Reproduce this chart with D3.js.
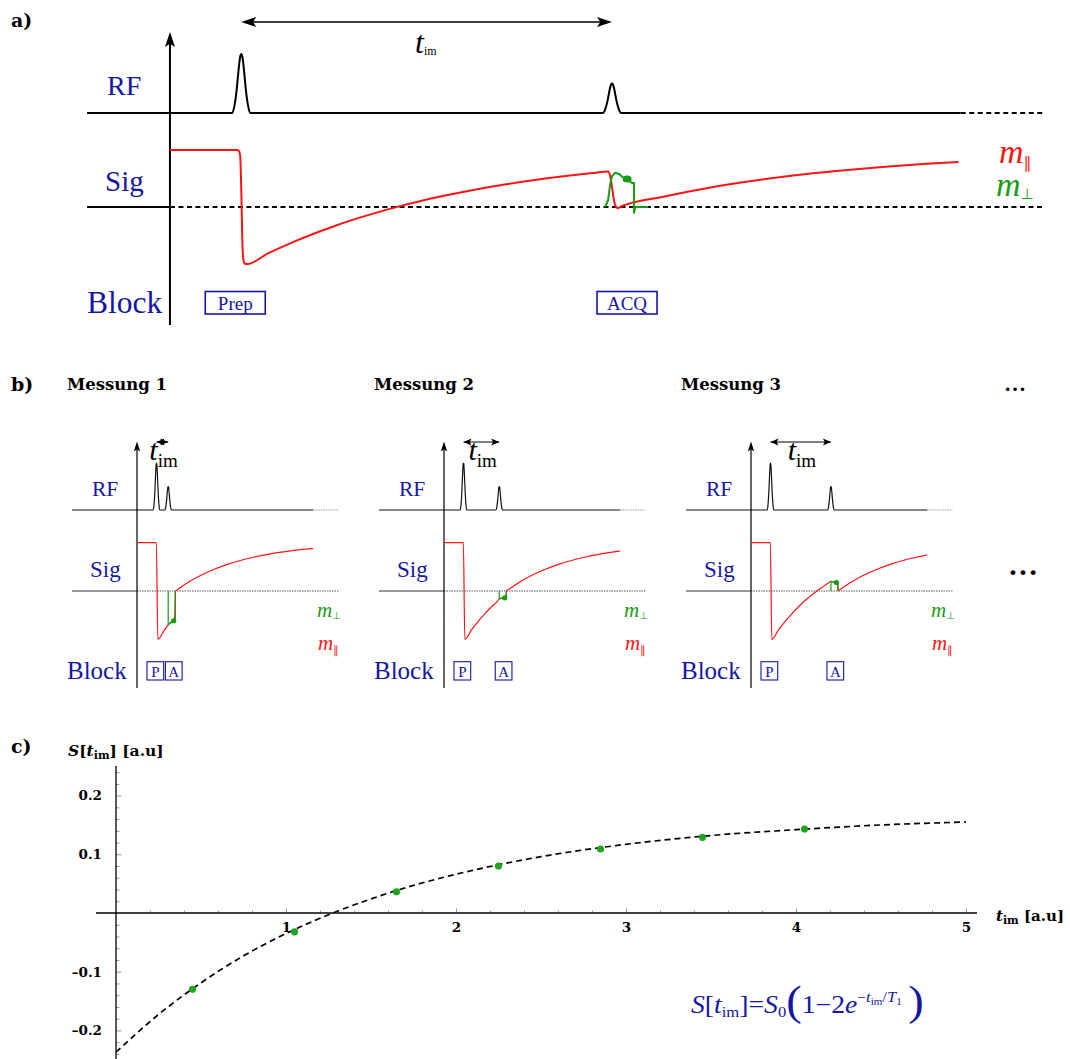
<!DOCTYPE html>
<html>
<head>
<meta charset="utf-8">
<script src="https://cdn.jsdelivr.net/npm/d3@7"></script>
<style>
  body { margin: 0; background: #fff; }
  svg { display: block; }
</style>
</head>
<body>
<script>
// ---------------- data ----------------
// Inversion recovery of m_par after the 180° pulse (time in units of T1, measured from the minimum)
const irTime = [0, 0.1, 0.2, 0.3, 0.4, 0.5, 0.6, 0.7, 0.8, 0.9, 1.0, 1.2, 1.4, 1.6, 1.8];
const irMag  = [-1, -0.81, -0.637, -0.482, -0.341, -0.213, -0.098, 0.007, 0.101, 0.187, 0.264, 0.398, 0.507, 0.596, 0.669];
// Saturation recovery of m_par after the 90° readout pulse
const srTime = [0, 0.2, 0.4, 0.6, 0.8, 1.0, 1.2, 1.4, 1.6, 1.8, 2.0, 2.2];
const srMag  = [0, 0.181, 0.330, 0.451, 0.551, 0.632, 0.699, 0.753, 0.798, 0.835, 0.865, 0.889];
// Gaussian RF pulse envelope (offset in half-widths, relative level)
const pulseOffsets = [-1, -0.75, -0.5, -0.35, -0.2, -0.1, 0, 0.1, 0.2, 0.35, 0.5, 0.75, 1];
const pulseLevels  = [0, 0.13, 0.41, 0.65, 0.87, 0.97, 1, 0.97, 0.87, 0.65, 0.41, 0.13, 0];
const flipAngles = [180, 90];

// Panel a) sequence
const prepTimeA = 0.33;
const invDropT = [0.31, 0.318, 0.325, 0.33, 0.335, 0.34, 0.347, 0.356];
const invDropM = [1, 0.99, 0.9, 0.3, -0.6, -0.93, -0.995, -1];
const invMinA = 0.356;
const acqTimeA = 2.046;
const acqPeakA = [2.028, 0.624];
const readoutDropT = [2.037, 2.046, 2.055, 2.065, 2.074];
const readoutDropM = [0.55, 0.35, 0.12, 0.0, -0.02];
const srStartA = 2.083;
const curveEndA = 3.65;
const perpT = [2.014, 2.028, 2.037, 2.046, 2.06, 2.079, 2.093, 2.116, 2.139, 2.148, 2.148, 2.153, 2.213];
const perpM = [0, 0.12, 0.39, 0.54, 0.6, 0.58, 0.53, 0.49, 0.42, 0.42, -0.1, 0, 0];
const perpDotA = [2.116, 0.49];
const blockNamesA = ["Prep", "ACQ"];

// Panel b) three measurements with increasing t_im
const measurements = ["Messung 1", "Messung 2", "Messung 3"];
const tImB  = [0.18, 0.55, 0.93];
const mAcqB = [-0.70, -0.16, 0.20];
const prepTimeB = 0.30;
const invMinB = 0.32;
const curveEndB = 2.71;
const blockNamesB = ["P", "A"];

// Panel c) measured signal vs inversion time and fitted recovery curve
const tIm    = [0.45, 1.05, 1.65, 2.25, 2.85, 3.45, 4.05];
const signal = [-0.130, -0.032, 0.036, 0.080, 0.109, 0.129, 0.143];
const fitT = [0, 0.25, 0.5, 0.75, 1, 1.25, 1.5, 1.75, 2, 2.5, 3, 3.5, 4, 4.5, 5];
const fitS = [-0.237, -0.173, -0.119, -0.073, -0.035, -0.003, 0.024, 0.047, 0.066, 0.096, 0.117, 0.132, 0.142, 0.150, 0.155];
const xTicksMajor = [1, 2, 3, 4, 5];
const yTicksMajor = [-0.2, -0.1, 0.1, 0.2];

// ---------------- setup ----------------
const W = 1070, H = 1059;
const NAVY = "#1616a2", RED = "#ff1414", GREEN = "#169c16";
const SERIF = "'Liberation Serif','Times New Roman',serif";
const BOLD = "'DejaVu Serif',serif";

const svg = d3.select("body").append("svg")
  .attr("width", W).attr("height", H)
  .attr("font-family", SERIF);
const defs = svg.append("defs");

const zip = (a, b) => a.map((v, i) => [v, b[i]]);

function arrowHead(g, x, y, dx, dy, len, half, color) {
  const px = -dy, py = dx;
  const bx = x - dx * len, by = y - dy * len;
  const ix = x - dx * len * 0.78, iy = y - dy * len * 0.78;
  g.append("path")
    .attr("d", `M${x},${y}L${bx + px * half},${by + py * half}L${ix},${iy}L${bx - px * half},${by - py * half}Z`)
    .attr("fill", color || "#000");
}

function rich(g, x, y, parts, attrs) {
  const t = g.append("text").attr("x", x).attr("y", y);
  Object.entries(attrs || {}).forEach(([k, v]) => t.attr(k, v));
  let cur = 0;
  parts.forEach(p => {
    const s = t.append("tspan").text(p.t);
    const off = p.dy || 0;
    if (off - cur) s.attr("dy", off - cur);
    cur = off;
    if (p.size) s.attr("font-size", p.size);
    if (p.it) s.attr("font-style", "italic");
    if (p.fam) s.attr("font-family", p.fam);
    if (p.dx) s.attr("dx", p.dx);
  });
  return t;
}

function rfPath(xs, base, amp, times, half, start, end) {
  const pts = [[xs(start), base]];
  times.forEach((t, i) => {
    pulseOffsets.forEach((o, k) => pts.push([xs(t) + o * half, base - amp(flipAngles[i]) * pulseLevels[k]]));
  });
  pts.push([xs(end), base]);
  return d3.line().curve(d3.curveMonotoneX)(pts);
}

// panel letters
[["a)", 27], ["b)", 391], ["c)", 753]].forEach(([s, y]) =>
  svg.append("text").attr("x", 11).attr("y", y).attr("font-family", BOLD)
    .attr("font-weight", "bold").attr("font-size", 19).text(s));

// ---------------- panel a ----------------
{
  const g = svg.append("g");
  const x = d3.scaleLinear().domain([-0.384, 4.05]).range([87, 1045]);
  const y = d3.scaleLinear().domain([-1, 1]).range([264, 150]);
  const rfBase = 113;
  const amp = d3.scaleLinear().domain([0, 180]).range([0, 59]);
  const pulses = [prepTimeA, acqTimeA];

  // RF line
  g.append("path").attr("d", rfPath(x, rfBase, amp, pulses, 9, -0.384, 3.66))
    .attr("fill", "none").attr("stroke", "#000").attr("stroke-width", 2);
  g.append("line").attr("x1", x(3.66)).attr("x2", x(4.05)).attr("y1", rfBase).attr("y2", rfBase)
    .attr("stroke", "#000").attr("stroke-width", 1.8).attr("stroke-dasharray", "5,3.5");

  // Sig baseline
  g.append("line").attr("x1", x(-0.384)).attr("x2", x(0)).attr("y1", y(0)).attr("y2", y(0))
    .attr("stroke", "#000").attr("stroke-width", 2);
  g.append("line").attr("x1", x(0)).attr("x2", x(4.05)).attr("y1", y(0)).attr("y2", y(0))
    .attr("stroke", "#000").attr("stroke-width", 1.8).attr("stroke-dasharray", "5,3.5");

  // vertical axis
  g.append("line").attr("x1", x(0)).attr("x2", x(0)).attr("y1", 325).attr("y2", 42)
    .attr("stroke", "#000").attr("stroke-width", 2);
  arrowHead(g, x(0), 32, 0, -1, 15, 5);

  // t_im arrow
  const ay = 22;
  g.append("line").attr("x1", x(prepTimeA) + 6).attr("x2", x(acqTimeA) - 6).attr("y1", ay).attr("y2", ay)
    .attr("stroke", "#000").attr("stroke-width", 1.5);
  arrowHead(g, x(prepTimeA), ay, -1, 0, 15, 5);
  arrowHead(g, x(acqTimeA), ay, 1, 0, 15, 5);
  rich(g, 415, 53, [{ t: "t", it: true, size: 32 }, { t: "im", size: 12, dy: 2 }]);

  // m_par
  defs.append("clipPath").attr("id", "clipA").append("rect")
    .attr("x", 0).attr("y", 0).attr("width", x(curveEndA)).attr("height", 400);
  const redPts = [[0, 1]].concat(zip(invDropT, invDropM));
  irTime.forEach((d, i) => { const t = invMinA + d; if (t > invMinA && t < acqPeakA[0]) redPts.push([t, irMag[i]]); });
  redPts.push(acqPeakA);
  zip(readoutDropT, readoutDropM).forEach(p => redPts.push(p));
  srTime.forEach((d, i) => redPts.push([srStartA + d, srMag[i]]));
  g.append("path").attr("clip-path", "url(#clipA)")
    .attr("d", d3.line().x(p => x(p[0])).y(p => y(p[1])).curve(d3.curveMonotoneX)(redPts))
    .attr("fill", "none").attr("stroke", RED).attr("stroke-width", 2);

  // m_perp
  g.append("path")
    .attr("d", d3.line().x(p => x(p[0])).y(p => y(p[1])).curve(d3.curveLinear)(zip(perpT, perpM)))
    .attr("fill", "none").attr("stroke", GREEN).attr("stroke-width", 2).attr("stroke-linejoin", "round");
  g.append("ellipse").attr("cx", x(perpDotA[0])).attr("cy", y(perpDotA[1])).attr("rx", 4.5).attr("ry", 3.5).attr("fill", GREEN);

  // labels
  g.append("text").attr("x", 107).attr("y", 95).attr("font-size", 28).attr("fill", NAVY).text("RF");
  g.append("text").attr("x", 105).attr("y", 191).attr("font-size", 29).attr("fill", NAVY).text("Sig");
  g.append("text").attr("x", 87).attr("y", 313).attr("font-size", 31.5).attr("fill", NAVY).text("Block");
  rich(g, 999, 163, [{ t: "m", it: true, size: 34 }, { t: "\u2225", size: 16, dy: 5, fam: "'DejaVu Sans'" }], { fill: RED });
  rich(g, 996, 196, [{ t: "m", it: true, size: 34 }, { t: "\u22A5", size: 15, dy: 3, fam: "'DejaVu Sans'" }], { fill: GREEN });

  // block boxes
  const boxes = [[x(prepTimeA) - 36, 60], [x(acqTimeA) - 15, 60]];
  boxes.forEach(([bx, bw], i) => {
    g.append("rect").attr("x", bx).attr("y", 291.5).attr("width", bw).attr("height", 22.5)
      .attr("fill", "none").attr("stroke", NAVY).attr("stroke-width", 1.6);
    g.append("text").attr("x", bx + bw / 2).attr("y", 309.5).attr("text-anchor", "middle")
      .attr("font-size", 19).attr("fill", NAVY).text(blockNamesA[i]);
  });
}

// ---------------- panel b ----------------
measurements.forEach((name, i) => {
  const g = svg.append("g");
  const x0 = 137 + i * 307;
  const x = d3.scaleLinear().domain([-1, 3.1]).range([x0 - 65, x0 + 201.5]);
  const y = d3.scaleLinear().domain([-1, 1]).range([639.3, 542.7]);
  const rfBase = 510;
  const amp = d3.scaleLinear().domain([0, 180]).range([0, 47]);
  const acq = prepTimeB + tImB[i];
  const mA = mAcqB[i];

  g.append("text").attr("x", x0 - 70).attr("y", 390).attr("font-family", BOLD)
    .attr("font-weight", "bold").attr("font-size", 16.5).text(name);

  // RF line
  g.append("path").attr("d", rfPath(x, rfBase, amp, [prepTimeB, acq], 3.2, -1, curveEndB))
    .attr("fill", "none").attr("stroke", "#111").attr("stroke-width", 1.2);
  g.append("line").attr("x1", x(curveEndB)).attr("x2", x(3.1)).attr("y1", rfBase).attr("y2", rfBase)
    .attr("stroke", "#999").attr("stroke-width", 1.2).attr("stroke-dasharray", "1.5,1");

  // Sig baseline
  g.append("line").attr("x1", x(-1)).attr("x2", x(0)).attr("y1", y(0)).attr("y2", y(0))
    .attr("stroke", "#333").attr("stroke-width", 1.2);
  g.append("line").attr("x1", x(0)).attr("x2", x(3.1)).attr("y1", y(0)).attr("y2", y(0))
    .attr("stroke", "#555").attr("stroke-width", 1.2).attr("stroke-dasharray", "1.5,1");

  // vertical axis
  g.append("line").attr("x1", x0).attr("x2", x0).attr("y1", 688).attr("y2", 448)
    .attr("stroke", "#000").attr("stroke-width", 1.2);
  arrowHead(g, x0, 441.5, 0, -1, 10, 3.2);

  // t_im arrow
  const ax1 = x(prepTimeB), ax2 = x(acq), ay = 442;
  g.append("line").attr("x1", ax1).attr("x2", ax2).attr("y1", ay).attr("y2", ay)
    .attr("stroke", "#000").attr("stroke-width", 1.2);
  arrowHead(g, ax1, ay, -1, 0, 8, 3.5);
  arrowHead(g, ax2, ay, 1, 0, 8, 3.5);
  rich(g, (ax1 + ax2) / 2 - 13, 460, [{ t: "t", it: true, size: 30 }, { t: "im", size: 19, dy: 7 }]);

  // m_par: inversion and recovery up to the readout
  const line = d3.line().x(p => x(p[0])).y(p => y(p[1]));
  const pre = [[0, 1], [prepTimeB - 0.002, 1]];
  irTime.forEach((d, k) => { const t = invMinB + d; if (t < acq - 0.01) pre.push([t, irMag[k]]); });
  pre.push([acq, mA]);
  g.append("path").attr("d", line.curve(d3.curveMonotoneX)(pre))
    .attr("fill", "none").attr("stroke", RED).attr("stroke-width", 1.2);
  // readout transition
  const conn = [[acq, mA], [acq + 0.1, mA * 0.8], [acq + 0.11, 0]];
  g.append("path").attr("d", line.curve(d3.curveLinear)(conn))
    .attr("fill", "none").attr("stroke", RED).attr("stroke-width", 1.2);
  // saturation recovery
  const cid = "clipB" + i;
  defs.append("clipPath").attr("id", cid).append("rect")
    .attr("x", 0).attr("y", 0).attr("width", x(curveEndB)).attr("height", H);
  const post = srTime.map((d, k) => [acq + 0.11 + d, srMag[k]]);
  g.append("path").attr("clip-path", `url(#${cid})`).attr("d", line.curve(d3.curveMonotoneX)(post))
    .attr("fill", "none").attr("stroke", RED).attr("stroke-width", 1.2);

  // m_perp
  const perp = [[acq, 0], [acq, mA], [acq + 0.085, mA * 0.88], [acq + 0.11, mA * 0.85], [acq + 0.11, 0]];
  g.append("path").attr("d", line.curve(d3.curveLinear)(perp))
    .attr("fill", "none").attr("stroke", GREEN).attr("stroke-width", 1.2);
  g.append("circle").attr("cx", x(acq + 0.085)).attr("cy", y(mA * 0.88)).attr("r", 2.6).attr("fill", GREEN);

  // labels
  g.append("text").attr("x", x0 - 45).attr("y", 496).attr("font-size", 21.5).attr("fill", NAVY).text("RF");
  g.append("text").attr("x", x0 - 47).attr("y", 577).attr("font-size", 23).attr("fill", NAVY).text("Sig");
  g.append("text").attr("x", x0 - 70).attr("y", 678.5).attr("font-size", 25).attr("fill", NAVY).text("Block");
  rich(g, x0 + 180, 617, [{ t: "m", it: true, size: 21 }, { t: "\u22A5", size: 10, dy: 2, fam: "'DejaVu Sans'" }], { fill: GREEN });
  rich(g, x0 + 181, 650, [{ t: "m", it: true, size: 21 }, { t: "\u2225", size: 11, dy: 4, fam: "'DejaVu Sans'" }], { fill: RED });

  // block boxes
  const pLeft = x0 + 10, bw = 16.7;
  const aLeft = Math.max(x(acq) - 4, pLeft + bw + 1.7);
  [pLeft, aLeft].forEach((bx, k) => {
    g.append("rect").attr("x", bx).attr("y", 661.7).attr("width", bw).attr("height", 18.3)
      .attr("fill", "none").attr("stroke", NAVY).attr("stroke-width", 1.1);
    g.append("text").attr("x", bx + bw / 2).attr("y", 676.5).attr("text-anchor", "middle")
      .attr("font-size", 15).attr("fill", NAVY).text(blockNamesB[k]);
  });
});
svg.append("text").attr("x", 1004).attr("y", 391).attr("font-size", 22).attr("font-weight", "bold").text("\u2026");
svg.append("text").attr("x", 1008).attr("y", 575).attr("font-size", 30).attr("font-weight", "bold").text("\u2026");

// ---------------- panel c ----------------
{
  const g = svg.append("g");
  const x = d3.scaleLinear().domain([0, 5]).range([116, 966]);
  const y = d3.scaleLinear().domain([-0.25, 0.25]).range([1059.75, 766.25]);
  const fmt = d => (d < 0 ? "\u2013" : "") + Math.abs(d);

  const minorX = d3.range(1, 26).map(k => +(k * 0.2).toFixed(1)).filter(v => !Number.isInteger(v));
  const minorY = d3.range(-12, 13).map(k => +(k * 0.02).toFixed(2)).filter(v => v !== 0 && Math.abs(v * 10 - Math.round(v * 10)) > 1e-6);

  const gx = g.append("g").attr("transform", `translate(0,${y(0)})`);
  gx.append("g").call(d3.axisBottom(x).tickValues(minorX).tickSize(-2.5).tickFormat(""));
  gx.append("g").call(d3.axisBottom(x).tickValues(xTicksMajor).tickSize(-4.5).tickPadding(9).tickFormat(d3.format("d")));
  const gy = g.append("g").attr("transform", `translate(${x(0)},0)`);
  gy.append("g").call(d3.axisLeft(y).tickValues(minorY).tickSize(-3.5).tickFormat(""));
  gy.append("g").call(d3.axisLeft(y).tickValues(yTicksMajor).tickSize(-5.5).tickPadding(14).tickFormat(fmt));
  g.selectAll(".domain").remove();
  g.selectAll(".tick line").attr("stroke", "#999");
  g.selectAll(".tick text").attr("font-family", BOLD).attr("font-weight", "bold").attr("font-size", 13.5).attr("fill", "#000");

  g.append("line").attr("x1", 96).attr("x2", 977).attr("y1", y(0)).attr("y2", y(0)).attr("stroke", "#000").attr("stroke-width", 1.3);
  g.append("line").attr("x1", x(0)).attr("x2", x(0)).attr("y1", 766).attr("y2", 1059).attr("stroke", "#000").attr("stroke-width", 1.3);

  g.append("path").attr("d", d3.line().x(d => x(d[0])).y(d => y(d[1])).curve(d3.curveMonotoneX)(zip(fitT, fitS)))
    .attr("fill", "none").attr("stroke", "#000").attr("stroke-width", 1.7).attr("stroke-dasharray", "6,4");
  g.selectAll("circle.pt").data(zip(tIm, signal)).join("circle").attr("class", "pt")
    .attr("cx", d => x(d[0])).attr("cy", d => y(d[1])).attr("r", 3.6).attr("fill", "#22a322");

  rich(g, 68, 756, [
    { t: "S", it: true }, { t: "[" }, { t: "t", it: true }, { t: "im", size: 11, dy: 3 }, { t: "]", dy: 0 }, { t: " [a.u]" }
  ], { "font-family": BOLD, "font-weight": "bold", "font-size": 15.5 });
  rich(g, 996, 921, [
    { t: "t", it: true }, { t: "im", size: 11, dy: 3 }, { t: " [a.u]", dy: 0 }
  ], { "font-family": BOLD, "font-weight": "bold", "font-size": 15 });

  // fitted model
  const f = rich(g, 691, 1013, [
    { t: "S", it: true }, { t: "[" }, { t: "t", it: true }, { t: "im", size: 15, dy: 4 }, { t: "]=", dy: 0 },
    { t: "S", it: true }, { t: "0", size: 15, dy: 4 }, { t: "(", size: 42, dy: 2 }, { t: "1\u22122", dy: 0 },
    { t: "e", it: true }, { t: "\u2212", size: 14, dy: -11 }, { t: "t", it: true, size: 15, dy: -11 },
    { t: "im", size: 10, dy: -8 }, { t: "/", size: 15, dy: -11 }, { t: "T", it: true, size: 15, dy: -11 },
    { t: "1", size: 10, dy: -8 }, { t: "\u2009\u2009", size: 15, dy: 0 }, { t: ")", size: 42, dy: 2 }
  ], { "font-size": 25, fill: NAVY });
  const bb = f.node().getBBox();
  const sx = 233 / bb.width;
  f.attr("transform", `translate(${691 * (1 - sx)},0) scale(${sx},1)`);
}
</script>
</body>
</html>
